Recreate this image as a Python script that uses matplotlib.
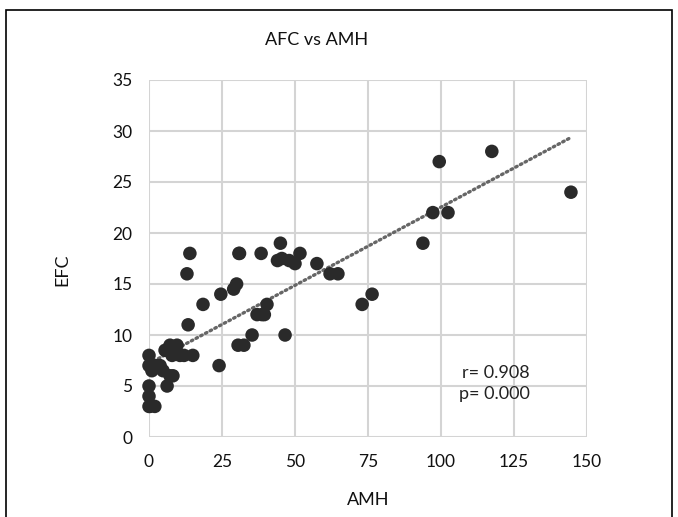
import matplotlib
matplotlib.use("Agg")
import matplotlib.pyplot as plt
import numpy as np
from matplotlib.patches import Rectangle

title = "AFC vs AMH"
x_label = "AMH"
y_label = "EFC"
x_ticks = [0, 25, 50, 75, 100, 125, 150]
y_ticks = [0, 5, 10, 15, 20, 25, 30, 35]
stats_text = "r= 0.908\np= 0.000"

amh = [0, 0, 0, 0, 0, 0.3, 2, 2, 3.8, 4.8, 6.2, 7.2, 8.2, 5.5, 7.2, 9.6, 10.6,
       7.9, 12, 13, 14, 13.4, 18.5, 15, 24, 24.6, 29, 30, 30.5, 32.5, 31, 35.3,
       37, 38.7, 40.4, 46.6, 30.8, 38.4, 45, 44, 48, 51.7, 50, 57.5, 62, 64.7,
       73, 76.4, 93.8, 97.2, 102.4, 99.4, 117.4, 144.5, 1, 3, 45.5, 39.5]
efc = [8, 7, 5, 4, 3, 3, 3, 7, 7, 6.5, 5, 6, 6, 8.5, 9, 9, 8, 8, 8, 16, 18,
       11, 13, 8, 7, 14, 14.5, 15, 9, 9, 18, 10, 12, 12, 13, 10, 18, 18, 19,
       17.3, 17.3, 18, 17, 17, 16, 16, 13, 14, 19, 22, 22, 27, 28, 24, 6.5, 7, 17.5, 12]

fig = plt.figure(figsize=(6.78, 5.17), dpi=100)
ax = fig.add_axes([149/678, 80/517, (587-149)/678, (437-80)/517])

ax.set_xlim(0, 150)
ax.set_ylim(0, 35)
ax.set_xticks(x_ticks)
ax.set_yticks(y_ticks)
ax.grid(True, color="#d4d4d4", linewidth=1.5)
ax.set_axisbelow(True)
for s in ax.spines.values():
    s.set_visible(False)
ax.tick_params(length=0, labelsize=12.5, colors="#111111")
ax.tick_params(axis="x", pad=12)
ax.tick_params(axis="y", pad=12)
for lbl in ax.get_xticklabels() + ax.get_yticklabels():
    lbl.set_fontfamily("Lato")

# trend line
coef = np.polyfit(amh, efc, 1)
xs = np.array([min(amh), max(amh)])
ax.plot(xs, np.polyval(coef, xs), linestyle=(0, (0.5, 1.1)), color="#666666",
        linewidth=2.4, dash_capstyle="round", zorder=2)

ax.scatter(amh, efc, s=95, color="#2a2a2a", edgecolors="none", zorder=3, clip_on=False)

ax.text(0.87, 0.15, stats_text, transform=ax.transAxes, ha="right", va="center",
        fontsize=13, family="Lato", color="#222222", linespacing=1.45)

fig.text(317/678, 1 - 40/517, title, ha="center", va="center", fontsize=13,
         family="Lato", color="#111111")
fig.text(368/678, 1 - 500/517, x_label, ha="center", va="center", fontsize=13,
         family="Lato", color="#111111")
fig.text(62/678, 1 - 270/517, y_label, ha="center", va="center", fontsize=13,
         family="Lato", rotation=90, color="#111111")

fig.patches.append(Rectangle((6/678, -0.05), (672-6)/678, 1.05 - 10/517,
                             transform=fig.transFigure, fill=False,
                             edgecolor="black", linewidth=1.2))

fig.savefig("out.png", dpi=100)
